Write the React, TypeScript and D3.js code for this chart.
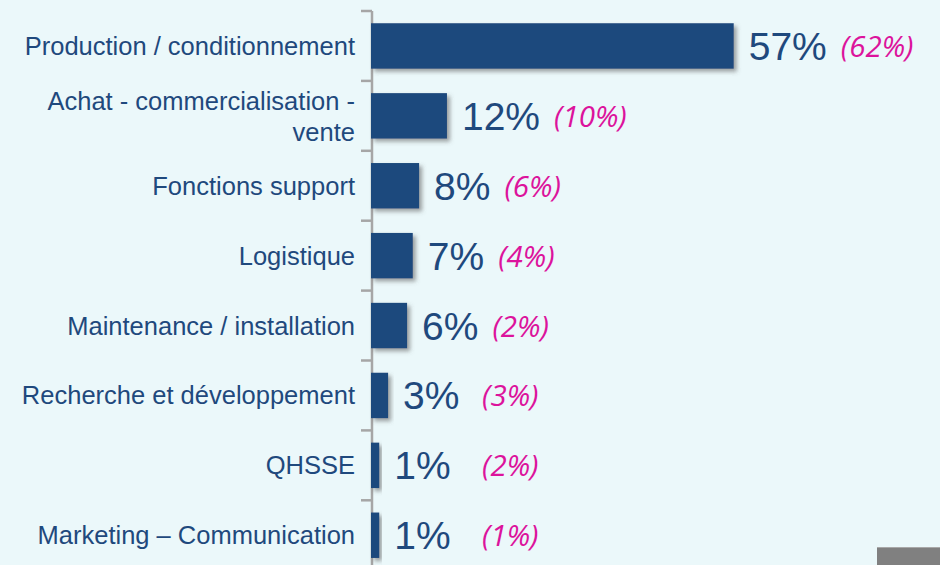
import React, { useEffect, useRef } from 'react';
import * as d3 from 'd3';

// métiers, part actuelle (barres) et part précédente (entre parenthèses)
const categories = [
  'Production / conditionnement',
  'Achat - commercialisation - vente',
  'Fonctions support',
  'Logistique',
  'Maintenance / installation',
  'Recherche et développement',
  'QHSSE',
  'Marketing – Communication',
];
const values = [57.3, 12.0, 7.6, 6.6, 5.7, 2.7, 1.3, 1.3];
const valueLabels = ['57%', '12%', '8%', '7%', '6%', '3%', '1%', '1%'];
const previousLabels = ['(62%)', '(10%)', '(6%)', '(4%)', '(2%)', '(3%)', '(2%)', '(1%)'];

const W = 940;
const H = 565;
const BLUE = '#1f497d';
const PINK = '#dc139c';

function App() {
  const ref = useRef<SVGSVGElement>(null);

  useEffect(() => {
    const svg = d3.select(ref.current).attr('width', W).attr('height', H);
    svg.selectAll('*').remove();

    svg.append('rect').attr('width', W).attr('height', H).attr('fill', '#ebf8fa');

    const defs = svg.append('defs');
    defs.append('filter')
      .attr('id', 'shadow')
      .attr('x', '-20%').attr('y', '-20%').attr('width', '150%').attr('height', '160%')
      .append('feDropShadow')
      .attr('dx', 3).attr('dy', 3).attr('stdDeviation', 2.2)
      .attr('flood-color', '#555').attr('flood-opacity', 0.55);

    const x0 = 371;
    const x = d3.scaleLinear().domain([0, 60]).range([x0, x0 + 60 * 6.33]);
    const y = d3.scaleBand().domain(categories).range([11, 11 + 8 * 69.9]).paddingInner(0.35).paddingOuter(0.175);
    const step = y.step();

    // axe vertical et graduations entre les catégories
    svg.append('line')
      .attr('x1', 372).attr('x2', 372).attr('y1', 11).attr('y2', H)
      .attr('stroke', '#a6a6a6').attr('stroke-width', 2.5);
    const tickYs = d3.range(categories.length + 1).map(i => 11 + i * step);
    svg.selectAll('.tick').data(tickYs).enter().append('line')
      .attr('x1', 361).attr('x2', 372).attr('y1', d => d).attr('y2', d => d)
      .attr('stroke', '#a6a6a6').attr('stroke-width', 2.5);

    svg.selectAll('.bar').data(categories).enter().append('rect')
      .attr('x', x(0))
      .attr('y', d => y(d))
      .attr('width', (d, i) => x(values[i]) - x(0))
      .attr('height', y.bandwidth())
      .attr('fill', BLUE)
      .attr('filter', 'url(#shadow)');

    // libellés des catégories
    const labels = svg.selectAll('.cat').data(categories).enter().append('text')
      .attr('x', 355)
      .attr('text-anchor', 'end')
      .attr('font-family', '"Liberation Sans", Arial, sans-serif')
      .attr('font-size', 25.5)
      .attr('fill', '#1f497d');
    labels.each(function (d) {
      const t = d3.select(this);
      const cy = (y(d) as number) + y.bandwidth() / 2;
      if (d.startsWith('Achat')) {
        t.append('tspan').attr('x', 355).attr('y', cy - 15 + 9).text('Achat - commercialisation -');
        t.append('tspan').attr('x', 355).attr('y', cy + 16 + 9).text('vente');
      } else {
        t.attr('y', cy + 9).text(d);
      }
    });

    // valeurs
    const valueText = svg.selectAll('.val').data(categories).enter().append('text')
      .attr('x', (d, i) => x(values[i]) + 15)
      .attr('y', d => (y(d) as number) + y.bandwidth() / 2 + 14)
      .attr('font-family', '"Liberation Sans", Arial, sans-serif')
      .attr('font-size', 39)
      .attr('fill', BLUE)
      .text((d, i) => valueLabels[i]);

    const ends: number[] = [];
    valueText.each(function (d, i) {
      const bb = (this as SVGTextElement).getBBox();
      ends[i] = bb.x + bb.width;
    });

    svg.selectAll('.prev').data(categories).enter().append('text')
      .attr('x', (d, i) => Math.max(482, ends[i] + 14))
      .attr('y', d => (y(d) as number) + y.bandwidth() / 2 + 11)
      .attr('font-family', '"Open Sans", sans-serif')
      .attr('font-style', 'italic')
      .attr('font-size', 29.5)
      .attr('fill', PINK)
      .text((d, i) => previousLabels[i]);

    // bloc gris en bas à droite
    svg.append('rect')
      .attr('x', 877).attr('y', 547).attr('width', 63).attr('height', 18)
      .attr('fill', '#808080');
    svg.append('line')
      .attr('x1', 877).attr('x2', 940).attr('y1', 547.5).attr('y2', 547.5)
      .attr('stroke', '#a8a8a8').attr('stroke-width', 1);
  }, []);

  return (
    <div style={{ position: 'absolute', left: 0, top: 0 }}>
      <svg ref={ref} style={{ display: 'block' }}></svg>
    </div>
  );
}

export default App;
